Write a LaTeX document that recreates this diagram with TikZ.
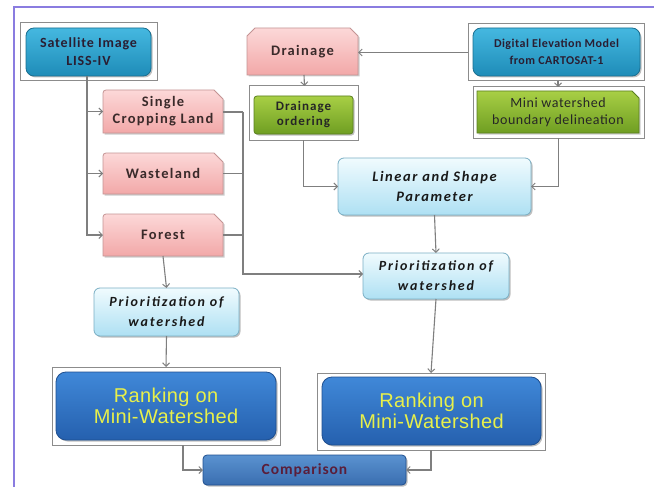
\documentclass[tikz,border=0pt]{standalone}
\usepackage{fontspec}
\setmainfont{Carlito}
\newfontfamily\arialf{Liberation Sans}
\usetikzlibrary{arrows.meta,backgrounds,shadows}
\definecolor{satT}{HTML}{45B8E0}
\definecolor{satB}{HTML}{1E8CB8}
\definecolor{satD}{HTML}{1A6F90}
\definecolor{satText}{HTML}{2A1E32}
\definecolor{pinkT}{HTML}{FCD8D8}
\definecolor{pinkB}{HTML}{F2A8A8}
\definecolor{pinkD}{HTML}{C49494}
\definecolor{pinkText}{HTML}{3A2A2A}
\definecolor{greenT}{HTML}{A8CF45}
\definecolor{greenB}{HTML}{6F9E22}
\definecolor{greenD}{HTML}{5A7F20}
\definecolor{cyanT}{HTML}{F0FBFE}
\definecolor{cyanB}{HTML}{AEE0F3}
\definecolor{cyanD}{HTML}{7AAFC4}
\definecolor{rankT}{HTML}{4088D8}
\definecolor{rankB}{HTML}{2560AE}
\definecolor{rankD}{HTML}{1F4F8F}
\definecolor{rankText}{HTML}{E8F04A}
\definecolor{compT}{HTML}{5A92D0}
\definecolor{compB}{HTML}{3A6EB0}
\definecolor{compText}{HTML}{5A1E3A}
\definecolor{lineg}{HTML}{7F7F7F}
\definecolor{frameg}{HTML}{8C8C8C}
\definecolor{purp}{HTML}{8A7CE0}
\newcommand\ls[1]{\addfontfeature{LetterSpace=#1}}
\tikzset{
  conn/.style={draw=lineg, line width=1.1pt},
  arr/.style={conn, -{Straight Barb[length=3.5pt,width=7pt,line width=1pt]}},
  frm/.style={draw=frameg, line width=1pt, inner sep=0pt, outer sep=0pt},
  box/.style={inner sep=0pt, outer sep=0pt, align=center},
  shad/.style={drop shadow={shadow xshift=1.5pt, shadow yshift=-1.5pt, fill=black, opacity=0.25}},
  satbox/.style={box, shad, rounded corners=8pt, top color=satT, bottom color=satB, draw=satD, line width=0.8pt,
     font=\fontsize{14}{18}\selectfont\bfseries\ls{6}, text=satText},
  txtbox/.style={box, font=\fontsize{14.5}{17}\selectfont\bfseries\ls{9}, text=pinkText},
  pinkshape/.style={top color=pinkT, bottom color=pinkB, draw=pinkD, line width=0.8pt,
     preaction={fill=black, opacity=0.2, transform canvas={shift={(1.5pt,-1.5pt)}}}},
  greenshape/.style={top color=greenT, bottom color=greenB, draw=greenD, line width=0.8pt,
     preaction={fill=black, opacity=0.2, transform canvas={shift={(1.5pt,-1.5pt)}}}},
  greenbox/.style={box, shad, rounded corners=3pt, top color=greenT, bottom color=greenB, draw=greenD, line width=0.8pt,
     font=\fontsize{13}{15}\selectfont\bfseries\ls{8}, text=black!85},
  cyanbox/.style={box, shad, rounded corners=6pt, top color=cyanT, bottom color=cyanB, draw=cyanD, line width=0.8pt,
     font=\fontsize{14.5}{20}\selectfont\bfseries\itshape\ls{11}, text=black!90},
  rankbox/.style={box, shad, rounded corners=10pt, top color=rankT, bottom color=rankB, draw=rankD, line width=0.8pt,
     font=\arialf\fontsize{20}{21}\selectfont\ls{2}, text=rankText},
  compbox/.style={box, shad, rounded corners=4pt, top color=compT, bottom color=compB, draw=rankD, line width=0.8pt,
     font=\fontsize{15.5}{15}\selectfont\bfseries\ls{6}, text=compText},
}
\begin{document}
\begin{tikzpicture}[x=1pt,y=-1pt]
\useasboundingbox (0,0) rectangle (654,487);
\begin{scope}[on background layer]
  \fill[white] (0,0) rectangle (654,487);
\end{scope}
% page frame lines
\draw[purp, line width=1.5pt] (14,487) -- (14,7) -- (654,7);

% frames
\node[frm, minimum width=137pt, minimum height=58pt] (satF) at (88.5,52) {};
\node[frm, minimum width=109pt, minimum height=54pt] (drordF) at (303.5,113) {};
\node[frm, minimum width=176pt, minimum height=57pt] (demF) at (556,52.5) {};
\node[frm, minimum width=171pt, minimum height=51pt] (miniF) at (558.5,112.5) {};
\node[frm, minimum width=228pt, minimum height=78pt] (rankLF) at (166,406) {};
\node[frm, minimum width=228pt, minimum height=77pt] (rankRF) at (431,411.5) {};

% boxes
\node[satbox, minimum width=125pt, minimum height=48pt] (sat) at (88.5,52) {Satellite Image\\LISS-IV};
\node[satbox, minimum width=167pt, minimum height=48pt, font=\fontsize{12}{17}\selectfont\bfseries\ls{4}] (dem) at (556.5,52) {Digital Elevation Model\\from CARTOSAT-1};

\node[txtbox, minimum width=120pt, minimum height=43pt] (single) at (163,111.5) {Single\\Cropping Land};
\node[txtbox, minimum width=120pt, minimum height=41pt] (waste) at (163,173.5) {Wasteland};
\node[txtbox, minimum width=120pt, minimum height=42pt] (forest) at (163,235) {Forest};
\node[txtbox, minimum width=111pt, minimum height=47pt] (drain) at (302.5,51.5) {Drainage};
\node[txtbox, minimum width=162pt, minimum height=42pt, font=\fontsize{14}{17}\selectfont\ls{4}, text=black!85] (mini) at (558,112) {Mini watershed\\boundary delineation};

\begin{scope}[on background layer]
  \foreach \n in {single,waste,forest}{
    \shade[pinkshape] ([yshift=-3pt]\n.north west) arc[start angle=180,end angle=90,radius=3pt]
      -- ([xshift=-9pt]\n.north east) -- ([yshift=-9pt]\n.north east)
      -- (\n.south east) -- (\n.south west) -- cycle;
  }
  \shade[pinkshape] ([yshift=-8pt]drain.north west) -- ([xshift=8pt]drain.north west)
      -- ([xshift=-8pt]drain.north east) -- ([yshift=-8pt]drain.north east)
      -- (drain.south east) -- (drain.south west) -- cycle;
  \shade[greenshape] (mini.north west) -- ([xshift=-7pt]mini.north east) -- ([yshift=-7pt]mini.north east)
      -- (mini.south east) -- (mini.south west) -- cycle;
\end{scope}

\node[greenbox, minimum width=99pt, minimum height=38pt] (drord) at (303.5,115) {Drainage\\ordering};
\node[cyanbox, minimum width=193pt, minimum height=57pt] (linear) at (434.5,186.5) {Linear and Shape\\Parameter};
\node[cyanbox, minimum width=146pt, minimum height=46pt, font=\fontsize{14}{20}\selectfont\bfseries\itshape\ls{13}] (priorR) at (436,276) {Prioritization of\\watershed};
\node[cyanbox, minimum width=145pt, minimum height=48pt, font=\fontsize{14}{20}\selectfont\bfseries\itshape\ls{13}] (priorL) at (166.5,312) {Prioritization of\\watershed};
\node[rankbox, minimum width=220pt, minimum height=68pt] (rankL) at (166,406) {Ranking on\\Mini-Watershed};
\node[rankbox, minimum width=219pt, minimum height=68pt] (rankR) at (431.5,411) {Ranking on\\Mini-Watershed};
\node[compbox, minimum width=203pt, minimum height=30pt] (comp) at (304.5,470) {Comparison};

% connectors
\coordinate (bus) at (243,112);
\draw[arr] ([xshift=-1.5pt]sat.south) |- (forest.west);
\draw[arr] ([xshift=-1.5pt]sat.south |- single.west) -- (single.west);
\draw[arr] ([xshift=-1.5pt]sat.south |- waste.west) -- (waste.west);
\draw[conn] (single.east |- bus) -- (bus);
\draw[arr] (bus) |- ([yshift=2pt]priorR.west);
\draw[conn] (waste.east) -- (waste.east -| bus);
\draw[conn] (forest.east) -- (forest.east -| bus);
\draw[arr] (forest.south) -- (priorL.north);
\draw[arr] (priorL.south) -- (rankLF.north);
\draw[arr] ([xshift=17pt]rankLF.south) |- (comp.west);
\draw[arr] (demF.west) -- (drain.east |- demF.west);
\draw[arr] ([xshift=1.5pt]drain.south) -- ([xshift=1pt]drordF.north);
\draw[arr] (drordF.south) |- (linear.west);
\draw[arr] ([xshift=2pt]demF.south) -- ([xshift=-0.5pt]miniF.north);
\draw[arr] (miniF.south) |- (linear.east);
\draw[arr] (linear.south) -- (priorR.north);
\draw[arr] (priorR.south) -- (rankRF.north);
\draw[arr] (rankRF.south) |- (comp.east);
\end{tikzpicture}
\end{document}
